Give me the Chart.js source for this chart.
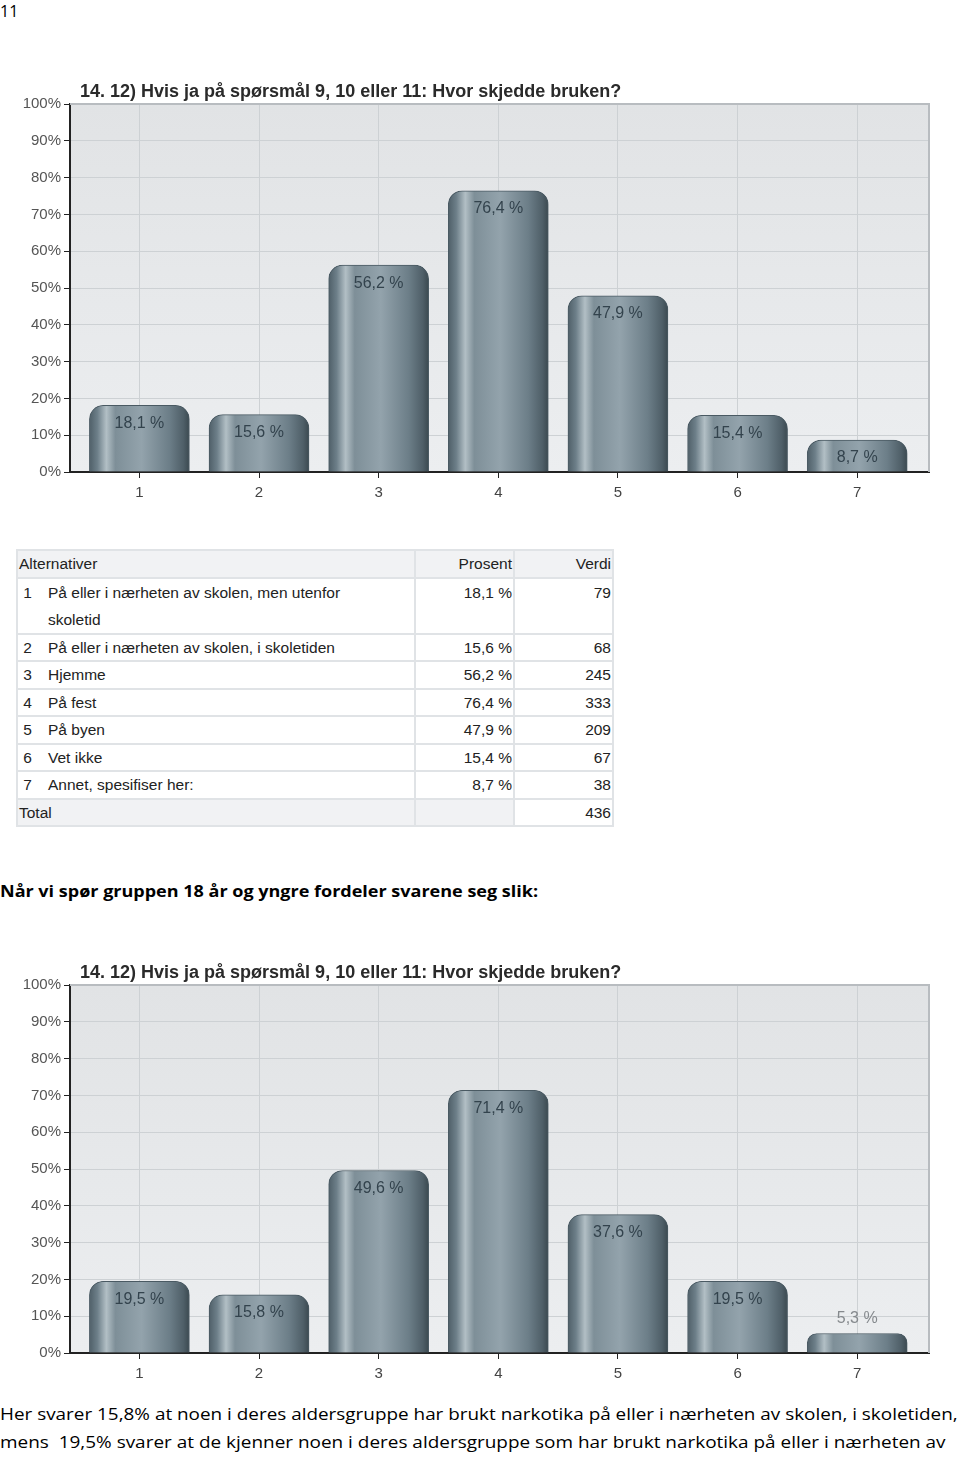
<!DOCTYPE html>
<html>
<head>
<meta charset="utf-8">
<script src="https://cdn.jsdelivr.net/npm/chart.js@4/dist/chart.umd.min.js"></script>
<style>
  body { margin: 0; width: 960px; height: 1457px; background: #fff; position: relative; overflow: hidden; font-family: "Liberation Sans", Arial, sans-serif; }
  .abs { position: absolute; }
  .fit { white-space: nowrap; transform-origin: 0 50%; }
  #pageNo { left: 0; top: 0; font-family: "Open Sans", sans-serif; font-size: 16px; color: #000; }
  #heading { left: 0; top: 880px; font-family: "Open Sans", sans-serif; font-weight: bold; font-size: 16px; color: #000; }
  .para { left: 0; font-family: "Open Sans", sans-serif; font-size: 17px; color: #000; }
  table { position: absolute; left: 16px; top: 549px; border-collapse: collapse; font-size: 15.5px; color: #222; }
  td { border: 2px solid #e0e3e6; padding: 0 1px; height: 25.5px; line-height: 25.5px; vertical-align: top; }
  tr.shade td { background: #f1f2f4; }
  tr.two td { line-height: 27px; }
  td.num { text-align: right; }
  .idx { display: inline-block; width: 29px; }
  .lab { display: inline-block; vertical-align: top; }
</style>
</head>
<body>
<div id="pageNo" class="abs">11</div>
<div class="abs" style="left:0;top:70px;width:960px;height:440px"><canvas id="chartAll"></canvas></div>
<table id="tbl"></table>
<div id="heading" class="abs fit" data-w="538">Når vi spør gruppen 18 år og yngre fordeler svarene seg slik:</div>
<div class="abs" style="left:0;top:951px;width:960px;height:440px"><canvas id="chartYoung"></canvas></div>
<div class="abs para fit" style="top:1402px" data-w="958">Her svarer 15,8% at noen i deres aldersgruppe har brukt narkotika på eller i nærheten av skolen, i skoletiden,</div>
<div class="abs para fit" style="top:1430px" data-w="946">mens&nbsp; 19,5% svarer at de kjenner noen i deres aldersgruppe som har brukt narkotika på eller i nærheten av</div>
<script>
// ===== DATA =====
const chartTitle = '14. 12) Hvis ja på spørsmål 9, 10 eller 11: Hvor skjedde bruken?';
const xLabels = ['1', '2', '3', '4', '5', '6', '7'];
const allValues = [18.1, 15.6, 56.2, 76.4, 47.9, 15.4, 8.7];
const youngValues = [19.5, 15.8, 49.6, 71.4, 37.6, 19.5, 5.3];
const alternatives = [
  'På eller i nærheten av skolen, men utenfor skoletid',
  'På eller i nærheten av skolen, i skoletiden',
  'Hjemme',
  'På fest',
  'På byen',
  'Vet ikke',
  'Annet, spesifiser her:'
];
const counts = [79, 68, 245, 333, 209, 67, 38];
const total = 436;

const fmt = v => v.toFixed(1).replace('.', ',') + ' %';

// ===== TABLE =====
function buildTable() {
  const t = document.getElementById('tbl');
  let html = '<tr class="shade"><td style="width:394px">Alternativer</td><td class="num" style="width:95px">Prosent</td><td class="num" style="width:95px">Verdi</td></tr>';
  alternatives.forEach((a, i) => {
    const two = i === 0;
    const label = two ? 'På eller i nærheten av skolen, men utenfor<br>skoletid' : a;
    html += '<tr' + (two ? ' class="two"' : '') + '><td><span class="idx">&nbsp;' + (i + 1) + '</span><span class="lab">' + label + '</span></td>' +
      '<td class="num">' + fmt(allValues[i]) + '</td><td class="num">' + counts[i] + '</td></tr>';
  });
  html += '<tr class="shade"><td>Total</td><td></td><td class="num" style="background:#fff">' + total + '</td></tr>';
  t.innerHTML = html;
}
buildTable();

// ===== CHARTS =====
const plotDecor = {
  id: 'plotDecor',
  beforeDraw(chart) {
    const { ctx, chartArea: a } = chart;
    const g = ctx.createLinearGradient(0, a.top, 0, a.bottom);
    g.addColorStop(0, '#e1e3e5');
    g.addColorStop(1, '#eceef0');
    ctx.save();
    ctx.fillStyle = g;
    ctx.fillRect(a.left, a.top, a.right - a.left, a.bottom - a.top);
    ctx.restore();
  },
  afterDraw(chart) {
    const { ctx, chartArea: a } = chart;
    ctx.save();
    ctx.strokeStyle = '#b8bcc0';
    ctx.lineWidth = 2;
    ctx.beginPath();
    ctx.moveTo(a.left, a.top); ctx.lineTo(a.right, a.top); ctx.lineTo(a.right, a.bottom);
    ctx.stroke();
    // title
    ctx.fillStyle = '#2a2a2a';
    ctx.font = 'bold 18px "Liberation Sans", Arial, sans-serif';
    ctx.textBaseline = 'alphabetic';
    ctx.fillText(chartTitle, a.left + 10, a.top - 7, 545);
    ctx.restore();
  }
};

const barLabels = {
  id: 'barLabels',
  afterDatasetsDraw(chart) {
    const { ctx } = chart;
    const meta = chart.getDatasetMeta(0);
    ctx.save();
    ctx.font = '16px "Liberation Sans", Arial, sans-serif';
    ctx.textAlign = 'center';
    ctx.textBaseline = 'middle';
    meta.data.forEach((el, i) => {
      const v = chart.data.datasets[0].data[i].y;
      const inside = el.base - el.y > 25;
      ctx.fillStyle = inside ? '#33434d' : '#85898d';
      ctx.fillText(fmt(v), el.x, inside ? el.y + 18 : el.y - 15);
    });
    ctx.restore();
  }
};

function barFill(c) {
  const chart = c.chart;
  const xs = chart.scales.x;
  if (!chart.chartArea || !xs || c.raw == null) return '#718591';
  const cx = xs.getPixelForValue(c.raw.x);
  const g = chart.ctx.createLinearGradient(cx - 50, 0, cx + 50, 0);
  g.addColorStop(0, '#4f5f68');
  g.addColorStop(0.08, '#6d7f89');
  g.addColorStop(0.17, '#b2bfc5');
  g.addColorStop(0.26, '#7e8f98');
  g.addColorStop(0.52, '#93a3ac');
  g.addColorStop(0.80, '#6c7e88');
  g.addColorStop(0.94, '#4f5f68');
  g.addColorStop(1, '#3b4950');
  return g;
}

function makeChart(id, values) {
  const el = document.getElementById(id);
  return new Chart(el, {
    type: 'bar',
    data: {
      datasets: [{
        data: values.map((v, i) => ({ x: i + 1, y: v })),
        backgroundColor: barFill,
        borderColor: '#4a5a63',
        borderWidth: 1,
        borderRadius: { topLeft: 14, topRight: 14 },
        borderSkipped: 'bottom',
        barThickness: 100
      }]
    },
    options: {
      responsive: true,
      maintainAspectRatio: false,
      animation: false,
      layout: { padding: { top: 34, right: 31, left: 0, bottom: 0 } },
      plugins: { legend: { display: false }, tooltip: { enabled: false } },
      scales: {
        x: {
          type: 'linear',
          offset: false,
          min: 0.42,
          max: 7.6,
          afterBuildTicks: s => { s.ticks = xLabels.map((_, i) => ({ value: i + 1 })); },
          afterFit: s => { s.height = 38; },
          ticks: {
            callback: v => xLabels[v - 1],
            color: '#444', font: { family: 'Liberation Sans', size: 15 }, padding: 6
          },
          grid: { offset: false, color: '#cdd1d4', tickColor: '#222', tickLength: 6, lineWidth: 1 },
          border: { color: '#222', width: 2 }
        },
        y: {
          min: 0, max: 100,
          ticks: {
            stepSize: 10, callback: v => v + '%',
            color: '#555', font: { family: 'Liberation Sans', size: 15 }, padding: 3
          },
          afterFit: s => { s.width = 70; },
          grid: { color: '#cdd1d4', tickColor: '#222', tickLength: 6, lineWidth: 1 },
          border: { color: '#222', width: 2 }
        }
      }
    },
    plugins: [plotDecor, barLabels]
  });
}

makeChart('chartAll', allValues);
makeChart('chartYoung', youngValues);

// fit text lines to their widths in the page
document.querySelectorAll('.fit').forEach(d => {
  const w = d.scrollWidth;
  const target = +d.dataset.w;
  d.style.transform = 'scaleX(' + (target / w) + ')';
});
</script>
</body>
</html>
